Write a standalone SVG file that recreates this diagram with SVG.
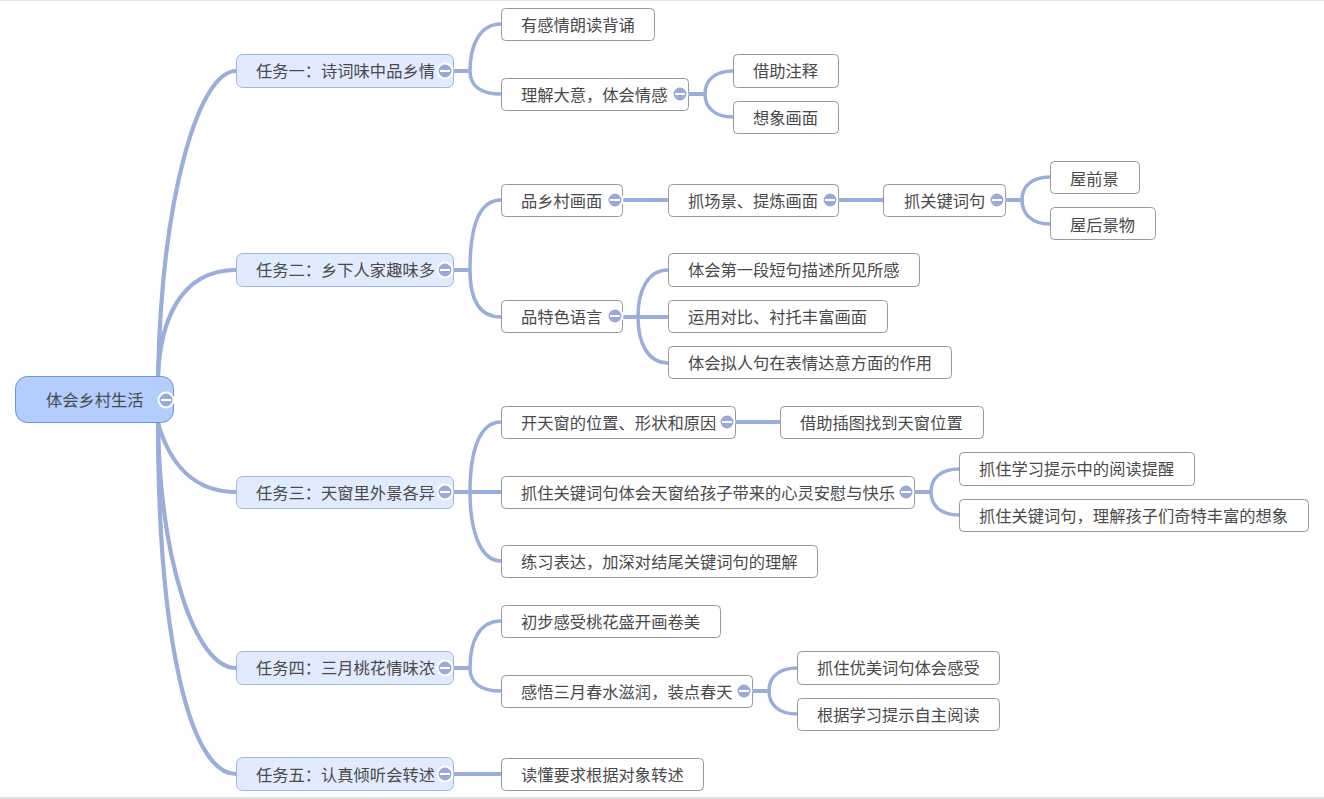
<svg xmlns="http://www.w3.org/2000/svg" width="1324" height="799" viewBox="0 0 1324 799">
<style>
text{font-family:"Noto Sans CJK SC","Noto Sans",sans-serif;font-size:16.27px;fill:#4a4a4a;dominant-baseline:central}
.c{fill:none;stroke:#9aaedc;stroke-width:3.5}
.s{fill:none;stroke:#9aaedc;stroke-width:4}
.c0{fill:none;stroke:#9aaedc;stroke-width:4.2}
.n rect{fill:#fff;stroke:#999;stroke-width:1}
.l1 rect{fill:#e1ebfe;stroke:#9db4e4;stroke-width:1}
.l0 rect{fill:#b3cdff;stroke:#6a90dc;stroke-width:1}
.t circle{fill:#9aaad8;stroke:#fff;stroke-width:2}
.t line{stroke:#fff;stroke-width:2}
</style>
<defs><g id="tog" class="t"><circle r="7.500"/><line x1="-5" x2="5" y1="0" y2="0"/></g></defs>
<rect x="0" y="0" width="1324" height="1" fill="#e3e3e3"/>
<rect x="0" y="797" width="1324" height="2" fill="#e3e3e3"/>
<g id="connectors">
<path class="c0" d="M158 376C162 190 200 71 236 71"/>
<path class="c0" d="M158 376C160 325 178 270 236 270"/>
<path class="c0" d="M158 423C170 465 195 492 236 492"/>
<path class="c0" d="M158 423C160 560 195 668 236 668"/>
<path class="c0" d="M158 423C158 640 190 774 236 774"/>
<path class="s" d="M453 71H470"/>
<path class="c" d="M470 71C470 45 480 24 501 24"/>
<path class="c" d="M470 71C470 85 480 94 501 94"/>
<path class="s" d="M689 94H705"/>
<path class="c" d="M705 94C705 80 715 71 733 71"/>
<path class="c" d="M705 94C705 108 715 117 733 117"/>
<path class="s" d="M453 270H470"/>
<path class="c" d="M470 270C470 225 480 200 501 200"/>
<path class="c" d="M470 270C470 300 480 317 501 317"/>
<path class="s" d="M623 200H668"/>
<path class="s" d="M839 200H883"/>
<path class="s" d="M1006 200H1022"/>
<path class="c" d="M1022 200C1022 186 1032 177 1050 177"/>
<path class="c" d="M1022 200C1022 214 1032 224 1050 224"/>
<path class="s" d="M623 317H668"/>
<path class="c" d="M638 317C638 290 648 270 668 270"/>
<path class="c" d="M638 317C638 343 648 363 668 363"/>
<path class="s" d="M453 492H501"/>
<path class="c" d="M470 492C470 450 480 422 501 422"/>
<path class="c" d="M470 492C470 530 480 561 501 561"/>
<path class="s" d="M736 422H780"/>
<path class="s" d="M915 492H931"/>
<path class="c" d="M931 492C931 478 941 469 959 469"/>
<path class="c" d="M931 492C931 506 941 515 959 515"/>
<path class="s" d="M453 668H470"/>
<path class="c" d="M470 668C470 640 480 621 501 621"/>
<path class="c" d="M470 668C470 682 480 691 501 691"/>
<path class="s" d="M753 691H769"/>
<path class="c" d="M769 691C769 677 779 668 797 668"/>
<path class="c" d="M769 691C769 705 779 714 797 714"/>
<path class="s" d="M453 774H501"/>
</g>
<g id="root" class="l0"><rect x="15.5" y="376.5" width="158" height="46" rx="12"/><text x="46" y="399">体会乡村生活</text><use href="#tog" x="166" y="400"/></g>
<g id="t1" class="l1"><rect x="236.500" y="54.500" width="217" height="33" rx="6"/><text x="256" y="70">任务一：诗词味中品乡情</text><use href="#tog" x="445" y="71"/></g>
<g id="t2" class="l1"><rect x="236.500" y="253.500" width="217" height="33" rx="6"/><text x="256" y="269">任务二：乡下人家趣味多</text><use href="#tog" x="445" y="270"/></g>
<g id="t3" class="l1"><rect x="236.500" y="476.500" width="217" height="32" rx="6"/><text x="256" y="492">任务三：天窗里外景各异</text><use href="#tog" x="445" y="492"/></g>
<g id="t4" class="l1"><rect x="236.500" y="651.500" width="217" height="33" rx="6"/><text x="256" y="667">任务四：三月桃花情味浓</text><use href="#tog" x="445" y="668"/></g>
<g id="t5" class="l1"><rect x="236.500" y="757.500" width="217" height="33" rx="6"/><text x="256" y="774">任务五：认真倾听会转述</text><use href="#tog" x="445" y="774"/></g>
<g id="n1" class="n"><rect x="501.500" y="8.500" width="153" height="32" rx="4"/><text x="521" y="24">有感情朗读背诵</text></g>
<g id="n2" class="n"><rect x="501.500" y="78.500" width="187" height="32" rx="4"/><text x="521" y="94">理解大意，体会情感</text><use href="#tog" x="680" y="94"/></g>
<g id="n3" class="n"><rect x="733.500" y="54.500" width="105" height="33" rx="4"/><text x="753" y="70">借助注释</text></g>
<g id="n4" class="n"><rect x="733.500" y="101.500" width="105" height="32" rx="4"/><text x="753" y="117">想象画面</text></g>
<g id="n5" class="n"><rect x="501.500" y="184.500" width="121" height="32" rx="4"/><text x="521" y="200">品乡村画面</text><use href="#tog" x="615" y="200"/></g>
<g id="n6" class="n"><rect x="668.500" y="184.500" width="170" height="32" rx="4"/><text x="688" y="200">抓场景、提炼画面</text><use href="#tog" x="830" y="200"/></g>
<g id="n7" class="n"><rect x="883.500" y="184.500" width="122" height="32" rx="4"/><text x="904" y="200">抓关键词句</text><use href="#tog" x="997" y="200"/></g>
<g id="n8" class="n"><rect x="1050.500" y="161.500" width="89" height="32" rx="4"/><text x="1070" y="178">屋前景</text></g>
<g id="n9" class="n"><rect x="1050.500" y="207.500" width="105" height="32" rx="4"/><text x="1070" y="224">屋后景物</text></g>
<g id="n10" class="n"><rect x="501.500" y="300.500" width="121" height="32" rx="4"/><text x="521" y="316">品特色语言</text><use href="#tog" x="615" y="316"/></g>
<g id="n11" class="n"><rect x="668.500" y="253.500" width="251" height="33" rx="4"/><text x="688" y="269">体会第一段短句描述所见所感</text></g>
<g id="n12" class="n"><rect x="668.500" y="300.500" width="219" height="32" rx="4"/><text x="688" y="316">运用对比、衬托丰富画面</text></g>
<g id="n13" class="n"><rect x="668.500" y="346.500" width="283" height="32" rx="4"/><text x="688" y="362">体会拟人句在表情达意方面的作用</text></g>
<g id="n14" class="n"><rect x="501.500" y="406.500" width="234" height="32" rx="4"/><text x="521" y="422">开天窗的位置、形状和原因</text><use href="#tog" x="727" y="422"/></g>
<g id="n15" class="n"><rect x="780.500" y="406.500" width="203" height="32" rx="4"/><text x="800" y="422">借助插图找到天窗位置</text></g>
<g id="n16" class="n"><rect x="501.500" y="476.500" width="413" height="32" rx="4"/><text x="521" y="492">抓住关键词句体会天窗给孩子带来的心灵安慰与快乐</text><use href="#tog" x="906" y="492"/></g>
<g id="n17" class="n"><rect x="959.500" y="452.500" width="235" height="33" rx="4"/><text x="979" y="468">抓住学习提示中的阅读提醒</text></g>
<g id="n18" class="n"><rect x="959.500" y="499.500" width="349" height="32" rx="4"/><text x="979" y="515">抓住关键词句，理解孩子们奇特丰富的想象</text></g>
<g id="n19" class="n"><rect x="501.500" y="545.500" width="316" height="32" rx="4"/><text x="521" y="561">练习表达，加深对结尾关键词句的理解</text></g>
<g id="n20" class="n"><rect x="501.500" y="605.500" width="219" height="32" rx="4"/><text x="521" y="621">初步感受桃花盛开画卷美</text></g>
<g id="n21" class="n"><rect x="501.500" y="675.500" width="251" height="32" rx="4"/><text x="521" y="691">感悟三月春水滋润，装点春天</text><use href="#tog" x="744" y="691"/></g>
<g id="n22" class="n"><rect x="797.500" y="651.500" width="202" height="33" rx="4"/><text x="817" y="667">抓住优美词句体会感受</text></g>
<g id="n23" class="n"><rect x="797.500" y="698.500" width="202" height="32" rx="4"/><text x="817" y="714">根据学习提示自主阅读</text></g>
<g id="n24" class="n"><rect x="501.500" y="758.500" width="202" height="32" rx="4"/><text x="521" y="774">读懂要求根据对象转述</text></g>
</svg>
